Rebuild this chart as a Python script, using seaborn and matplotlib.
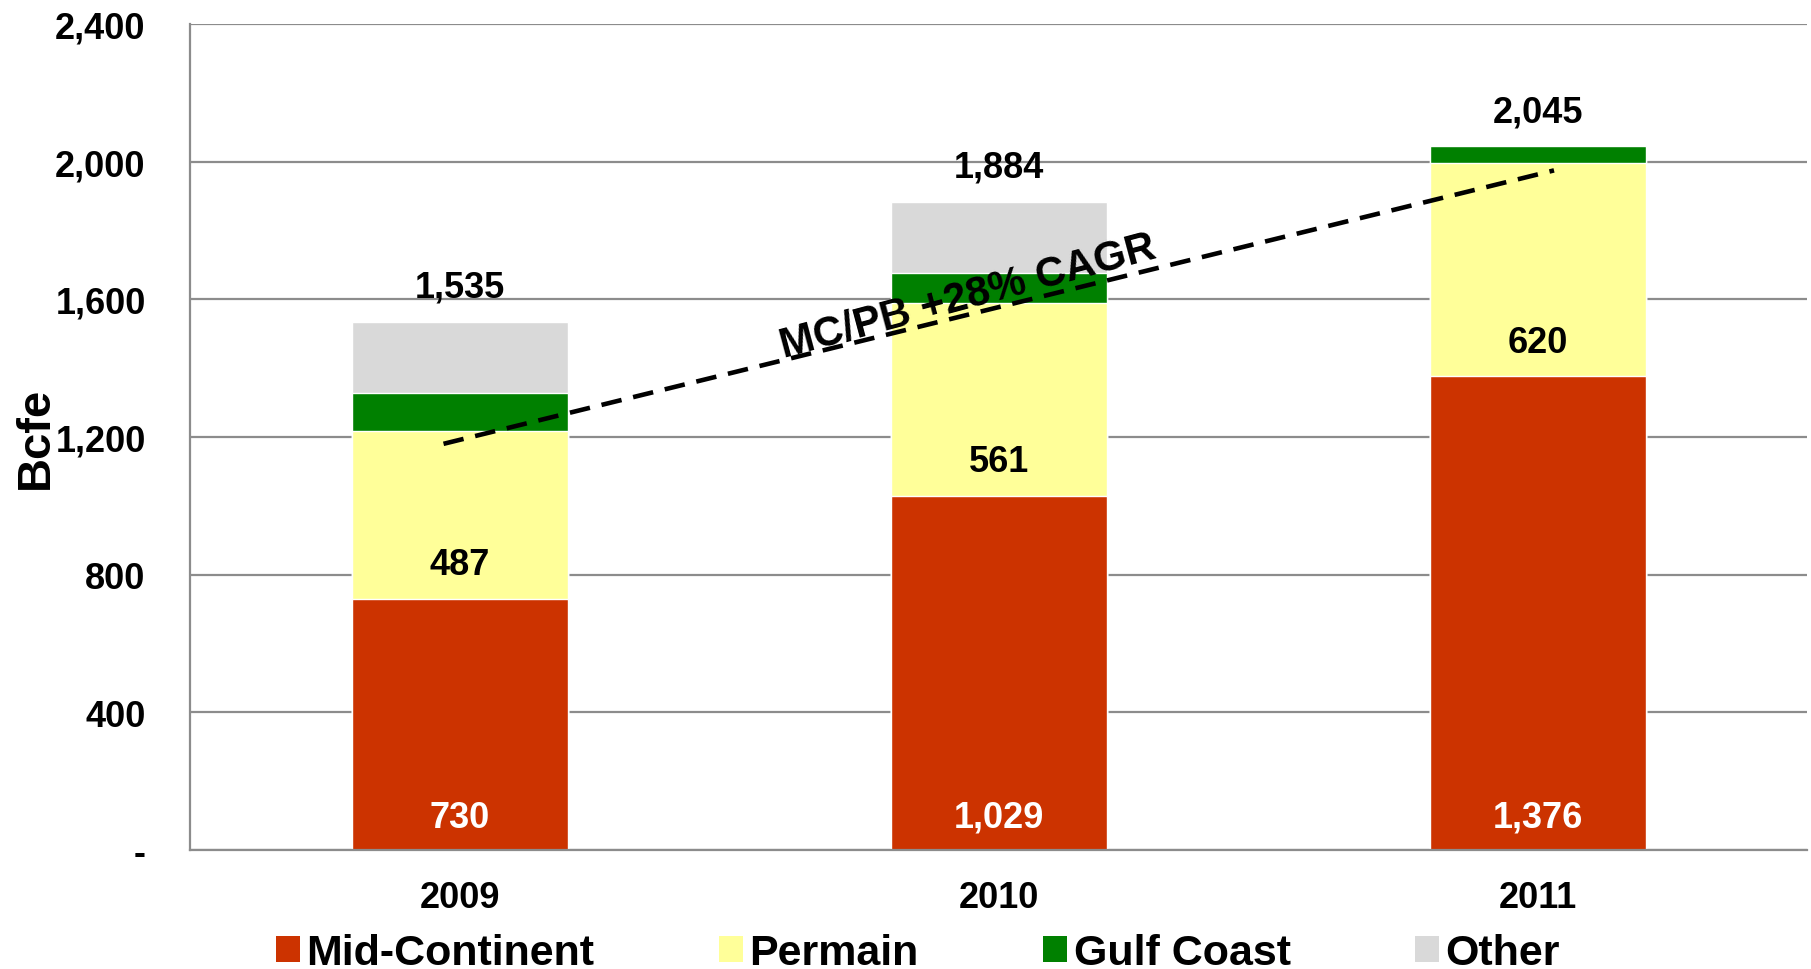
import matplotlib
matplotlib.use('Agg')
import matplotlib.pyplot as plt
import matplotlib.ticker as mticker
from matplotlib.patches import Patch
import seaborn as sns
import pandas as pd
import numpy as np

# данные
years = ['2009', '2010', '2011']
mid_continent = [730, 1029, 1376]
permain = [487, 561, 620]
gulf_coast = [110, 87, 49]
other = [208, 207, 0]
totals = [1535, 1884, 2045]
series_names = ['Mid-Continent', 'Permain', 'Gulf Coast', 'Other']
colors = ['#CC3300', '#FFFF99', '#008000', '#D9D9D9']

# линия тренда MC/PB
trend_x = [-0.03, 2.03]
trend_y = [1180, 1975]
trend_label = 'MC/PB +28% CAGR'

sns.set_style('white')
plt.rcParams['font.family'] = ['Liberation Sans', 'DejaVu Sans']
plt.rcParams['font.weight'] = 'bold'
plt.rcParams['text.color'] = 'black'
plt.rcParams['axes.labelcolor'] = 'black'
plt.rcParams['xtick.color'] = 'black'
plt.rcParams['ytick.color'] = 'black'

df = pd.DataFrame({'year': years, 'Mid-Continent': mid_continent, 'Permain': permain,
                   'Gulf Coast': gulf_coast, 'Other': other})
cum = df[series_names].cumsum(axis=1)
base = cum.shift(1, axis=1).fillna(0)

fig = plt.figure(figsize=(18.11, 9.70), dpi=100)
ax = fig.add_axes([0.105, 0.123, 0.893, 0.851])

# рисуем накопленные столбцы сверху вниз
for name, color in reversed(list(zip(series_names, colors))):
    sns.barplot(x=df['year'], y=cum[name], color=color, width=0.4, ax=ax,
                saturation=1, zorder=2)

ax.set_ylim(0, 2400)
ax.set_xlim(-0.5, 2.5)
ax.set_yticks(np.arange(0, 2401, 400))
ax.yaxis.set_major_formatter(mticker.FuncFormatter(lambda v, p: '-' if v == 0 else f'{v:,.0f}'))
ax.grid(axis='y', color='#8c8c8c', lw=1.6, zorder=0)
ax.set_axisbelow(True)

for s in ['top', 'right']:
    ax.spines[s].set_visible(False)
for s in ['left', 'bottom']:
    ax.spines[s].set_color('#8c8c8c')
    ax.spines[s].set_linewidth(1.6)

ax.tick_params(axis='y', length=8, width=1.6, color='#8c8c8c', labelcolor='black', pad=24, labelsize=26)
ax.tick_params(axis='x', which='major', length=0, pad=22, labelsize=26, labelcolor='black')
ax.set_xticks([-0.5, 0.5, 1.5, 2.5], minor=True)
ax.tick_params(axis='x', which='minor', length=8, width=1.6, color='#8c8c8c')
ax.set_xlabel('')
ax.set_ylabel('Bcfe', fontsize=34, fontweight='bold', color='black')
ax.yaxis.set_label_coords(-0.082, 0.5)

# подписи значений
for i in range(len(years)):
    ax.text(i, 95, f'{mid_continent[i]:,}', ha='center', va='center',
            color='white', fontsize=26, fontweight='bold', zorder=5)
    ax.text(i, base['Permain'][i] + 100, f'{permain[i]:,}', ha='center', va='center',
            color='black', fontsize=26, fontweight='bold', zorder=5)
    ax.text(i, totals[i] + 100, f'{totals[i]:,}', ha='center', va='center',
            color='black', fontsize=26, fontweight='bold', zorder=5)

ax.plot(trend_x, trend_y, color='black', lw=3.3, dashes=(4.5, 2.6), zorder=6)
ax.text(0.943, 1610, trend_label, rotation=15, ha='center', va='center', color='black',
        fontsize=30, fontweight='bold', zorder=7, rotation_mode='anchor')

handles = [Patch(facecolor=c, edgecolor='none', label=n) for n, c in zip(series_names, colors)]
fig.legend(handles=handles, loc='center', bbox_to_anchor=(0.507, 0.016), ncol=4,
           frameon=False, fontsize=31, handlelength=0.55, handleheight=0.55,
           handletextpad=0.15, columnspacing=2.9, borderpad=0, labelcolor='black')

fig.savefig('out.png', dpi=100)
